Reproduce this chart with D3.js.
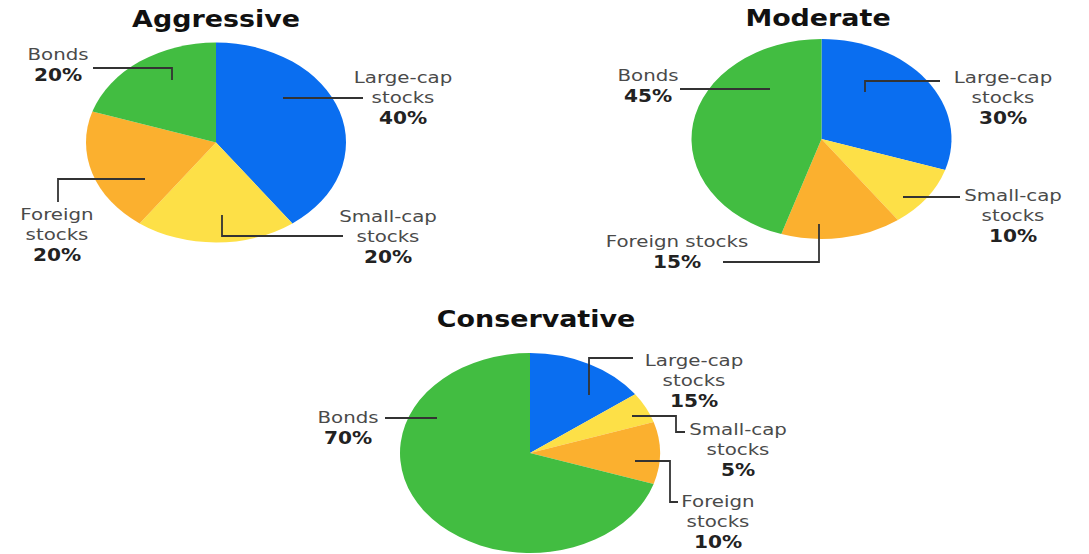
<!DOCTYPE html>
<html>
<head>
<meta charset="utf-8">
<script src="https://cdn.jsdelivr.net/npm/d3@7/dist/d3.min.js"></script>
<style>
  html, body { margin: 0; padding: 0; background: #fff; }
  svg { display: block; }
</style>
</head>
<body>
<svg id="chart" width="1089" height="554"></svg>
<script>
// ---- data ----
const categories = ["Large-cap stocks", "Small-cap stocks", "Foreign stocks", "Bonds"];
const portfolioNames = ["Aggressive", "Moderate", "Conservative"];
const aggressiveValues = [40, 20, 20, 20];
const moderateValues = [30, 10, 15, 45];
const conservativeValues = [15, 5, 10, 70];
const sliceColors = ["#0a6ef0", "#fde047", "#fbb02f", "#42bd41"];

// ---- layout (positions / styles only) ----
const layouts = [
  { values: aggressiveValues, cx: 216, cy: 142.5, titleX: 216, titleY: 27,
    labels: [
      { lines: ["Large-cap", "stocks"], x: 403, y: 83, line: [[283, 98], [363, 98]] },
      { lines: ["Small-cap", "stocks"], x: 388, y: 222, line: [[222, 215], [222, 236], [343, 236]] },
      { lines: ["Foreign", "stocks"], x: 57, y: 220, line: [[145, 179], [58, 179], [58, 202]] },
      { lines: ["Bonds"], x: 58, y: 60, line: [[93, 68], [172, 68], [172, 80]] }
    ] },
  { values: moderateValues, cx: 821.5, cy: 139, titleX: 818, titleY: 26,
    labels: [
      { lines: ["Large-cap", "stocks"], x: 1003, y: 83, line: [[865, 92], [865, 81], [940, 81]] },
      { lines: ["Small-cap", "stocks"], x: 1013, y: 201, line: [[903, 197], [960, 197]] },
      { lines: ["Foreign stocks"], x: 677, y: 247, line: [[819, 224], [819, 262], [723, 262]] },
      { lines: ["Bonds"], x: 648, y: 81, line: [[680, 89], [770, 89]] }
    ] },
  { values: conservativeValues, cx: 530, cy: 453, titleX: 536, titleY: 327,
    labels: [
      { lines: ["Large-cap", "stocks"], x: 694, y: 366, line: [[589, 395], [589, 358], [633, 358]] },
      { lines: ["Small-cap", "stocks"], x: 738, y: 435, line: [[632, 416], [676, 416], [676, 432], [685, 432]] },
      { lines: ["Foreign", "stocks"], x: 718, y: 507, line: [[635, 461], [670, 461], [670, 502], [678, 502]] },
      { lines: ["Bonds"], x: 348, y: 423, line: [[385, 418], [437, 418]] }
    ] }
];

const R = 100, STRETCH = 1.3;
const svg = d3.select("#chart");
const color = d3.scaleOrdinal().domain(categories).range(sliceColors);
const pie = d3.pie().sort(null).value(d => d.value);
const arc = d3.arc().innerRadius(0).outerRadius(R);
const lineGen = d3.line();

layouts.forEach((L, i) => {
  const data = categories.map((c, k) => ({ cat: c, value: L.values[k] }));
  const g = svg.append("g");

  // slices
  g.append("g")
    .attr("transform", `translate(${L.cx},${L.cy}) scale(${STRETCH},1)`)
    .selectAll("path")
    .data(pie(data))
    .join("path")
    .attr("d", arc)
    .attr("fill", d => color(d.data.cat));

  // title
  g.append("text")
    .attr("transform", `translate(${L.titleX},${L.titleY}) scale(1.17,1)`)
    .attr("text-anchor", "middle")
    .attr("font-family", "DejaVu Sans, sans-serif")
    .attr("font-weight", "bold")
    .attr("font-size", 23)
    .attr("fill", "#111")
    .text(portfolioNames[i]);

  // labels + leader lines
  L.labels.forEach((lab, k) => {
    g.append("path")
      .attr("d", lineGen(lab.line))
      .attr("fill", "none")
      .attr("stroke", "#333")
      .attr("stroke-width", 1.8);

    lab.lines.forEach((t, j) => {
      g.append("text")
        .attr("transform", `translate(${lab.x},${lab.y + j * 19.5}) scale(1.2,1)`)
        .attr("text-anchor", "middle")
        .attr("font-family", "DejaVu Sans, sans-serif")
        .attr("font-size", 16.5)
        .attr("fill", "#4a4a4a")
        .text(t);
    });
    g.append("text")
      .attr("transform", `translate(${lab.x},${lab.y + lab.lines.length * 19.5 + 1.5}) scale(1.15,1)`)
      .attr("text-anchor", "middle")
      .attr("font-family", "DejaVu Sans, sans-serif")
      .attr("font-weight", "bold")
      .attr("font-size", 17.5)
      .attr("fill", "#222")
      .text(L.values[k] + "%");
  });
});
</script>
</body>
</html>
